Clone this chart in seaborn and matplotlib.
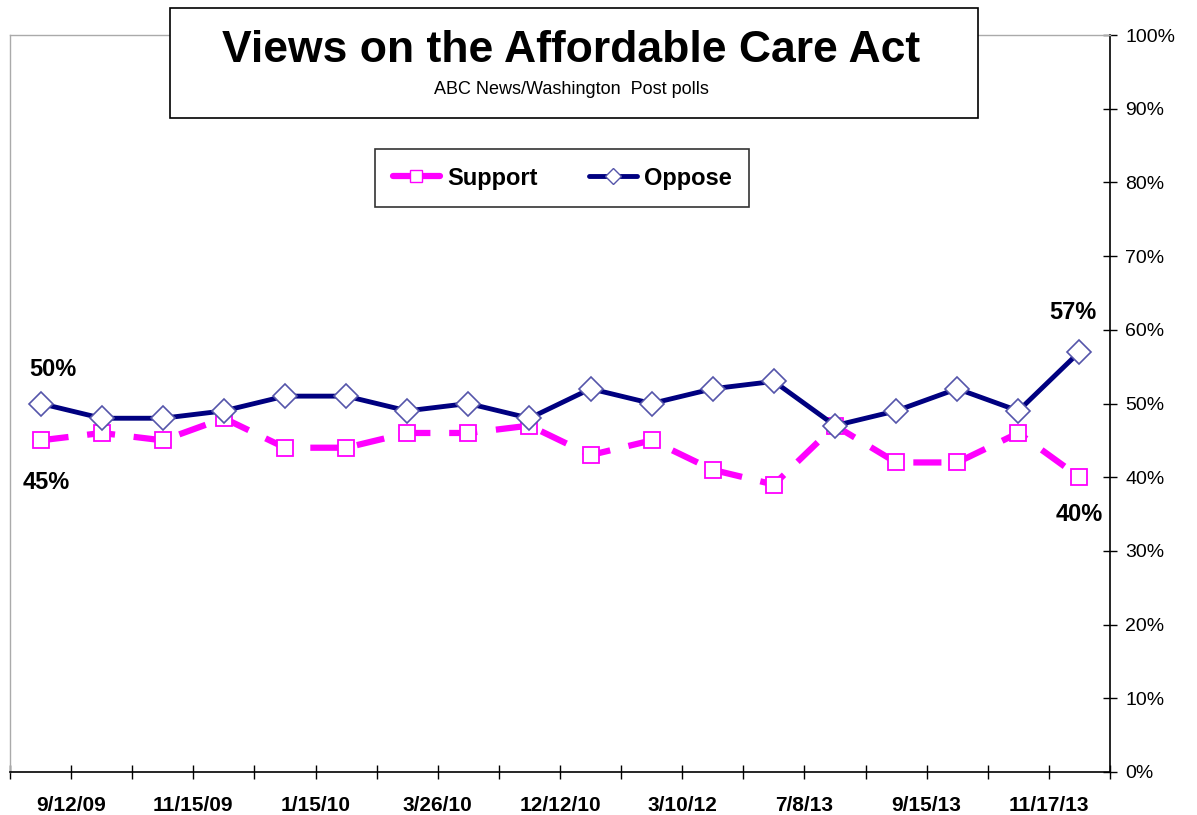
import matplotlib
matplotlib.use("Agg")
import matplotlib.pyplot as plt
import seaborn as sns
import pandas as pd
from matplotlib.patches import Rectangle
from matplotlib.lines import Line2D

# poll results, %
support = [45, 46, 45, 48, 44, 44, 46, 46, 47, 43, 45, 41, 39, 47, 42, 42, 46, 40]
oppose = [50, 48, 48, 49, 51, 51, 49, 50, 48, 52, 50, 52, 53, 47, 49, 52, 49, 57]
date_labels = ["9/12/09", "11/15/09", "1/15/10", "3/26/10", "12/12/10",
               "3/10/12", "7/8/13", "9/15/13", "11/17/13"]
y_labels = ["0%", "10%", "20%", "30%", "40%", "50%", "60%", "70%", "80%", "90%", "100%"]

sns.set_style("white")
plt.rcParams['font.family'] = ['Liberation Sans', 'DejaVu Sans']
plt.rcParams['text.color'] = 'black'

n = len(support)
df = pd.DataFrame({"poll": list(range(n)) * 2,
                   "pct": support + oppose,
                   "view": ["Support"] * n + ["Oppose"] * n})

fig = plt.figure(figsize=(11.97, 8.15), dpi=100)
ax = fig.add_axes([10 / 1197, 1 - 772 / 815, 1100 / 1197, 737 / 815])

sns.lineplot(data=df[df.view == "Support"], x="poll", y="pct", ax=ax,
             color="#FF00FF", lw=4.5, marker="s", markersize=12,
             markerfacecolor="white", markeredgecolor="#FF00FF", markeredgewidth=1.3,
             legend=False)
ax.lines[-1].set_linestyle((0, (4.5, 3)))
sns.lineplot(data=df[df.view == "Oppose"], x="poll", y="pct", ax=ax,
             color="#000080", lw=3.5, marker="D", markersize=12,
             markerfacecolor="white", markeredgecolor="#5555aa", markeredgewidth=1.2,
             legend=False)

ax.set_xlim(-0.5, n - 0.5)
ax.set_ylim(0, 100)
ax.set_xlabel("")
ax.set_ylabel("")

# x ticks at category boundaries, labels every other boundary
ax.set_xticks([k - 0.5 for k in range(n + 1)])
ax.set_xticklabels([""] * (n + 1))
for i, lab in enumerate(date_labels):
    ax.text(2 * i + 0.5, -3.3, lab, ha="center", va="top", fontsize=15,
            fontweight="bold", transform=ax.transData)
ax.tick_params(axis="x", bottom=True, direction="inout", length=10, width=1,
               color="black")

ax.yaxis.tick_right()
ax.set_yticks(range(0, 101, 10))
ax.set_yticklabels(y_labels, fontsize=14, color="black")
ax.tick_params(axis="y", right=True, direction="inout", length=10, width=1,
               color="black", pad=6)

for side in ["left", "top"]:
    ax.spines[side].set_color("#aaaaaa")
    ax.spines[side].set_linewidth(1)
for side in ["right", "bottom"]:
    ax.spines[side].set_color("black")
    ax.spines[side].set_linewidth(1.2)

# end-point labels
lab_kw = dict(fontsize=17, fontweight="bold", ha="center", va="center")
ax.text(0.2, 54.6, f"{oppose[0]}%", **lab_kw)
ax.text(0.1, 39.3, f"{support[0]}%", **lab_kw)
ax.text(n - 1.1, 62.4, f"{oppose[-1]}%", **lab_kw)
ax.text(n - 1.0, 35.0, f"{support[-1]}%", **lab_kw)

# title box
fig.patches.append(Rectangle((170 / 1197, 1 - 118 / 815), 808 / 1197, 110 / 815,
                             transform=fig.transFigure, facecolor="white",
                             edgecolor="black", lw=1.2, zorder=5))
fig.text(571 / 1197, 1 - 50 / 815, "Views on the Affordable Care Act", ha="center",
         va="center", fontsize=32, fontweight="bold", zorder=6)
fig.text(571 / 1197, 1 - 89 / 815, "ABC News/Washington  Post polls", ha="center",
         va="center", fontsize=13, zorder=6)

# legend
handles = [Line2D([], [], color="#FF00FF", lw=4.5, marker="s", markersize=9,
                  markerfacecolor="white", markeredgecolor="#FF00FF"),
           Line2D([], [], color="#000080", lw=3.5, marker="D", markersize=8,
                  markerfacecolor="white", markeredgecolor="#5555aa")]
leg = fig.legend(handles, ["Support", "Oppose"], loc="center",
                 bbox_to_anchor=(562 / 1197, 1 - 178 / 815), ncol=2, frameon=True,
                 fancybox=False, edgecolor="black", handlelength=2.0,
                 columnspacing=2.2, handletextpad=0.3, borderpad=0.75,
                 borderaxespad=0, prop={"weight": "bold", "size": 17})
leg.get_frame().set_linewidth(1.2)
leg._legend_box.sep = 0

fig.savefig("out.png", dpi=100)
